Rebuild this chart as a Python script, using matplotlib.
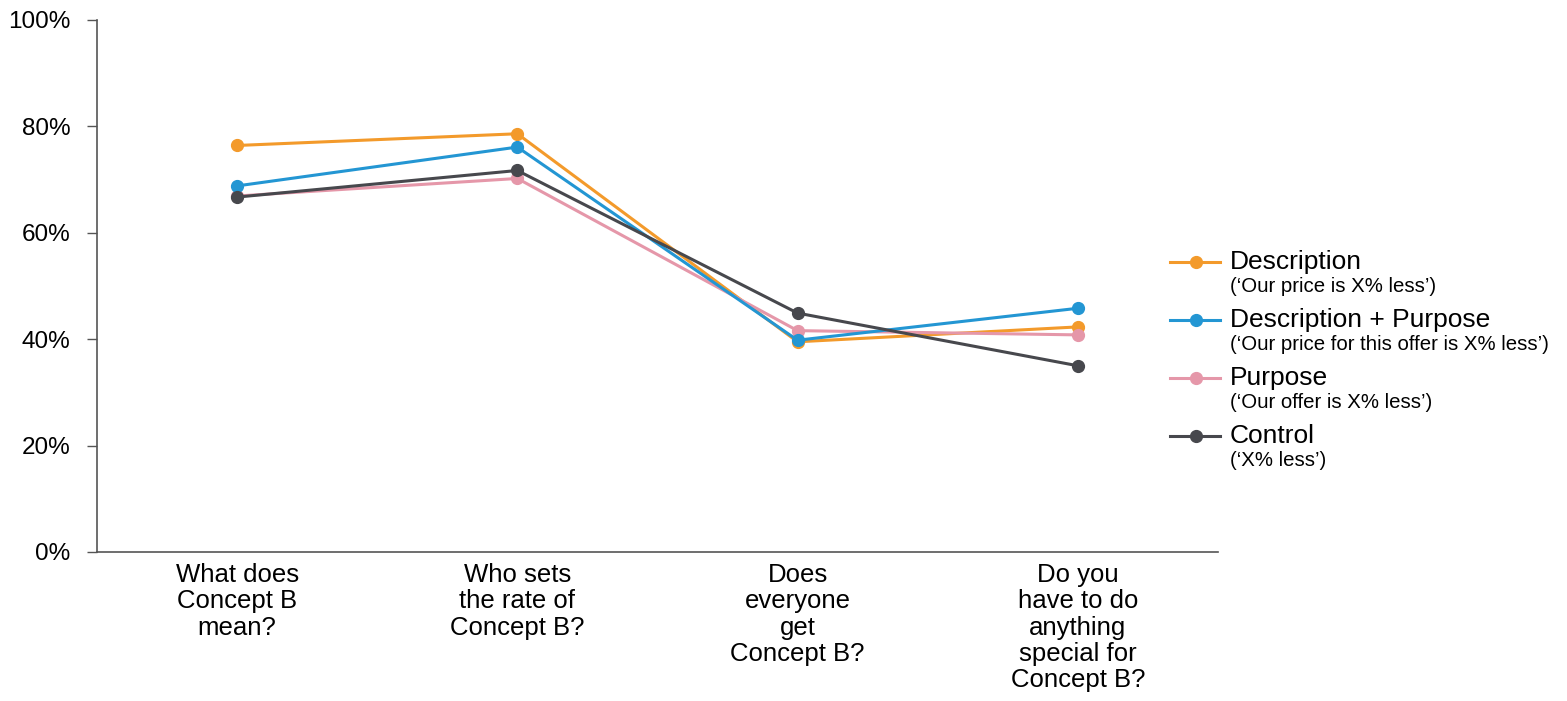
import matplotlib.pyplot as plt
from matplotlib.lines import Line2D
from matplotlib.ticker import PercentFormatter

plt.rcParams['font.family'] = ['Liberation Sans', 'DejaVu Sans']

categories = ["What does\nConcept B\nmean?",
              "Who sets\nthe rate of\nConcept B?",
              "Does\neveryone\nget\nConcept B?",
              "Do you\nhave to do\nanything\nspecial for\nConcept B?"]

description = [76.4, 78.6, 39.5, 42.3]
desc_purpose = [68.8, 76.1, 39.8, 45.8]
purpose = [66.9, 70.2, 41.6, 40.8]
control = [66.7, 71.7, 44.9, 35.0]

names = ["Description", "Description + Purpose", "Purpose", "Control"]
subtitles = ["(\u2018Our price is X% less\u2019)",
             "(\u2018Our price for this offer is X% less\u2019)",
             "(\u2018Our offer is X% less\u2019)",
             "(\u2018X% less\u2019)"]
colors = ["#F39A2B", "#2396D3", "#E597A9", "#47484D"]
zorders = [3, 5, 4, 6]

fig = plt.figure(figsize=(15.67, 7.01), dpi=100)
ax = fig.add_axes([0.0619, 0.2126, 0.7153, 0.759])

x = [i + 0.5 for i in range(len(categories))]
series = [description, desc_purpose, purpose, control]
for vals, c, z in zip(series, colors, zorders):
    ax.plot(x, vals, color=c, lw=2.2, marker="o", markersize=8.5, zorder=z)

ax.set_xlim(0, len(categories))
ax.set_ylim(0, 100)
ax.set_yticks(range(0, 101, 20))
ax.yaxis.set_major_formatter(PercentFormatter(decimals=0))
ax.set_xticks(x)
ax.set_xticklabels(categories, fontsize=18.5, linespacing=1.12, va="top")
ax.tick_params(axis="x", length=0, pad=8)
ax.tick_params(axis="y", length=7, width=1, color="#555555", labelsize=17.5, pad=12)
for s in ["top", "right"]:
    ax.spines[s].set_visible(False)
for s in ["left", "bottom"]:
    ax.spines[s].set_color("#555555")
    ax.spines[s].set_linewidth(1.2)

# legend drawn by hand (two-line entries with different sizes)
W, H = 1567, 701
y0 = 262
step = 58
for i, (n, sub, c) in enumerate(zip(names, subtitles, colors)):
    yy = y0 + i * step
    fig.add_artist(Line2D([1170 / W, 1220 / W], [1 - yy / H] * 2, color=c, lw=2.2))
    fig.add_artist(Line2D([1196 / W], [1 - yy / H], color=c, marker="o", markersize=8.5))
    fig.text(1230 / W, 1 - yy / H, n, fontsize=19, va="center", ha="left")
    fig.text(1230 / W, 1 - (yy + 25) / H, sub, fontsize=14.7, va="center", ha="left")

fig.savefig("out.png", dpi=100, facecolor="white")
